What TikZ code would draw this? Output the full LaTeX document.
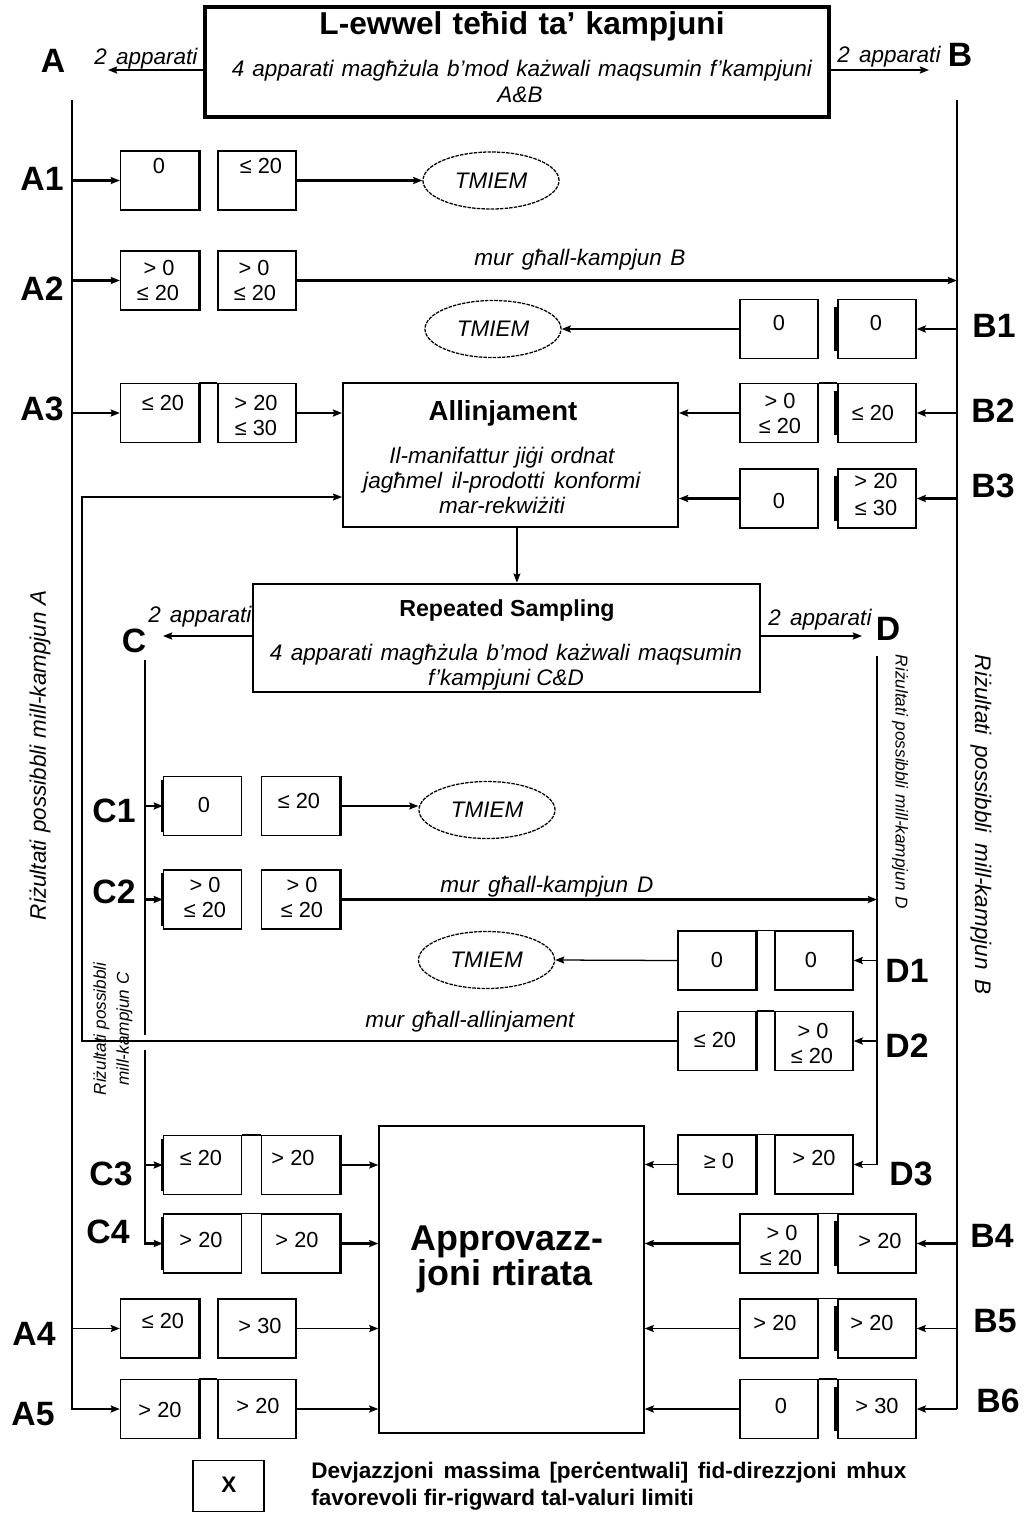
\documentclass[tikz,border=0pt]{standalone}
\usepackage{fontspec}
\setmainfont{Liberation Sans}
\usetikzlibrary{arrows.meta,shapes.geometric}
\newcommand\Fval{\fontsize{15.5}{18}\selectfont}
\newcommand\Flab{\fontsize{24}{26}\selectfont\bfseries}
\newcommand\Fital{\fontsize{16}{17.8}\selectfont\itshape}
\newcommand\Ftitle{\fontsize{22.5}{24}\selectfont\bfseries}
\newcommand\Fallin{\fontsize{19.6}{22}\selectfont\bfseries}
\newcommand\Frep{\fontsize{16.5}{18}\selectfont\bfseries}
\newcommand\Fappr{\fontsize{25.5}{26}\selectfont\bfseries}
\newcommand\Fleg{\fontsize{16}{19}\selectfont\bfseries}
\newcommand\Frot{\fontsize{16}{18}\selectfont\itshape}
\newcommand\Frotsm{\fontsize{12.2}{16.3}\selectfont\itshape}
\newcommand\Tv[4]{\node[val] (#1) at (#2,#3) {#4};}
\newcommand\Tl[4]{\node[lab] (#1) at (#2,#3) {#4};}
\begin{document}
\begin{tikzpicture}[x=0.025cm,y=-0.025cm,
 cell/.style={draw,line width=0.9pt,minimum width=1.95cm,minimum height=1.475cm,inner sep=0pt},
 val/.style={font=\Fval,anchor=base,inner sep=0pt},
 lab/.style={font=\Flab,anchor=base,inner sep=0pt},
 ital/.style={font=\Fital,anchor=base,inner sep=0pt},
 tm/.style={ellipse,draw,line width=0.9pt,dash pattern=on 2.5pt off 0.8pt,minimum width=3.4cm,minimum height=1.425cm,inner sep=0pt,font=\Fital},
 thk/.style={line width=2pt},
 cw/.style={line width=1.6pt},
 medline/.style={line width=1.2pt},
 thn/.style={line width=0.9pt},
 acc/.style={line width=2pt},
 arr/.style={-{Stealth[length=6.5pt,width=5pt,inset=1pt]}},
]
\useasboundingbox (0,0) rectangle (1024,1514);

% ---------- big boxes ----------
\node[draw,line width=2.8pt,minimum width=15.6cm,minimum height=2.75cm,inner sep=0pt] (top) at (517,62) {};
\node[font=\Ftitle,anchor=base,inner sep=0pt] (title) at (522,34) {\makebox[10.125cm][s]{L-ewwel teħid ta' kampjuni}};
\node[ital] (topl1) at (522,76) {\makebox[14.5cm][s]{4 apparati magħżula b'mod każwali maqsumin f'kampjuni}};
\node[ital] (topl2) at (520,102) {A\&B};

\node[draw,line width=1.3pt,minimum width=8.375cm,minimum height=3.6cm,inner sep=0pt] (allin) at (510.5,455) {};
\node[font=\Fallin,anchor=base,inner sep=0pt] (allint) at (503,420) {Allinjament};
\node[ital] (allin1) at (502,463) {\makebox[5.625cm][s]{Il-manifattur jiġi ordnat}};
\node[ital] (allin2) at (502,488) {\makebox[6.925cm][s]{jagħmel il-prodotti konformi}};
\node[ital] (allin3) at (502,513) {mar-rekwiżiti};

\node[draw,line width=2pt,minimum width=12.675cm,minimum height=2.7cm,inner sep=0pt] (rep) at (506.5,638) {};
\node[font=\Frep,anchor=base,inner sep=0pt] (rept) at (507,616) {Repeated Sampling};
\node[ital] (rep1) at (506,660) {\makebox[11.8cm][s]{4 apparati magħżula b'mod każwali maqsumin}};
\node[ital] (rep2) at (506,685) {f'kampjuni C\&D};

\node[draw,line width=0.9pt,minimum width=6.625cm,minimum height=7.675cm,inner sep=0pt] (appr) at (511.5,1279.5) {};
\node[font=\Fappr,anchor=base,inner sep=0pt] (appr1) at (507,1250) {Approvazz-};
\node[font=\Fappr,anchor=base,inner sep=0pt] (appr2) at (505,1285) {joni rtirata};

% ---------- ellipses ----------
\node[tm] (tm1) at (491,180.5) {TMIEM};
\node[tm] (tm2) at (493,329) {TMIEM};
\node[tm] (tm3) at (487,810) {TMIEM};
\node[tm] (tm4) at (486.5,960) {TMIEM};

% ---------- cells ----------
\foreach \i/\y in {1/180.5,2/280.5,3/413,4/1328.5,5/1409}{
  \node[cell] (aL\i) at (159.5,\y) {};
  \node[cell] (aR\i) at (257,\y) {};
  \draw[acc] (aL\i.north east) -- (aL\i.south east);
}
\foreach \i/\y in {1/329,2/413,3/498.5,4/1243.5,5/1328.5,6/1409}{
  \node[cell] (bL\i) at (779,\y) {};
  \node[cell] (bR\i) at (877,\y) {};
  \draw[acc] ([xshift=-0.05cm,yshift=-0.2cm]bR\i.north west) -- ([xshift=-0.05cm,yshift=0.2cm]bR\i.south west);
}
\foreach \i/\y in {1/806,2/899.5,3/1165,4/1243.5}{
  \node[cell] (cL\i) at (202.5,\y) {};
  \node[cell] (cR\i) at (300.5,\y) {};
  \draw[acc] ([yshift=-0.1cm]cL\i.north west) -- ([yshift=0.1cm]cL\i.south west);
  \draw[acc] (cR\i.north east) -- (cR\i.south east);
}
\foreach \i/\y in {1/960.5,2/1041,3/1164.5}{
  \node[cell] (dL\i) at (717,\y) {};
  \node[cell] (dR\i) at (814,\y) {};
  \draw[acc] (dL\i.north east) -- (dL\i.south east);
}
\foreach \l/\r in {aL3/aR3,aL5/aR5,bL2/bR2,bL4/bR4,bL5/bR5,bL6/bR6,cL3/cR3,cL4/cR4,dL1/dR1,dL2/dR2,dL3/dR3}{
  \draw[medline] (\l.north east) -- (\r.north west);
}

% ---------- values ----------
\Tv{va1l}{159}{173}{0} \Tv{va1r}{261}{173}{≤ 20}
\Tv{va2la}{159}{275}{> 0} \Tv{va2lb}{158}{300}{≤ 20}
\Tv{va2ra}{254}{275}{> 0} \Tv{va2rb}{255}{300}{≤ 20}
\Tv{va3l}{163}{410}{≤ 20} \Tv{va3ra}{256}{410}{> 20} \Tv{va3rb}{256}{435}{≤ 30}
\Tv{va4l}{163}{1328}{≤ 20} \Tv{va4r}{260}{1333}{> 30}
\Tv{va5l}{160}{1417}{> 20} \Tv{va5r}{258}{1413}{> 20}
\Tv{vb1l}{779}{330}{0} \Tv{vb1r}{876}{330}{0}
\Tv{vb2la}{780}{408}{> 0} \Tv{vb2lb}{780}{433}{≤ 20} \Tv{vb2r}{873}{420}{≤ 20}
\Tv{vb3l}{779}{508}{0} \Tv{vb3ra}{876}{488}{> 20} \Tv{vb3rb}{876}{515}{≤ 30}
\Tv{vb4la}{782}{1240}{> 0} \Tv{vb4lb}{781}{1265}{≤ 20} \Tv{vb4r}{880}{1248}{> 20}
\Tv{vb5l}{775}{1330}{> 20} \Tv{vb5r}{872}{1330}{> 20}
\Tv{vb6l}{781}{1413}{0} \Tv{vb6r}{877}{1413}{> 30}
\Tv{vc1l}{204}{812}{0} \Tv{vc1r}{299}{808}{≤ 20}
\Tv{vc2la}{205}{892}{> 0} \Tv{vc2lb}{205}{917}{≤ 20}
\Tv{vc2ra}{302}{892}{> 0} \Tv{vc2rb}{302}{917}{≤ 20}
\Tv{vc3l}{201}{1165}{≤ 20} \Tv{vc3r}{293}{1165}{> 20}
\Tv{vc4l}{201}{1247}{> 20} \Tv{vc4r}{297}{1247}{> 20}
\Tv{vd1l}{717}{967}{0} \Tv{vd1r}{811}{967}{0}
\Tv{vd2l}{715}{1047}{≤ 20} \Tv{vd2ra}{813}{1038}{> 0} \Tv{vd2rb}{812}{1063}{≤ 20}
\Tv{vd3l}{719}{1168}{≥ 0} \Tv{vd3r}{814}{1165}{> 20}

% ---------- labels ----------
\Tl{lA}{53}{72}{A} \Tl{lB}{960}{66}{B}
\Tl{lA1}{42}{190}{A1} \Tl{lA2}{42}{300}{A2} \Tl{lA3}{42}{420}{A3}
\Tl{lA4}{34}{1345}{A4} \Tl{lA5}{33}{1425}{A5}
\Tl{lB1}{994}{337}{B1} \Tl{lB2}{993}{422}{B2} \Tl{lB3}{993}{497}{B3}
\Tl{lB4}{992}{1247}{B4} \Tl{lB5}{995}{1332}{B5} \Tl{lB6}{998}{1412}{B6}
\Tl{lC}{134}{652}{C} \Tl{lD}{888}{640}{D}
\Tl{lC1}{114}{822}{C1} \Tl{lC2}{114}{903}{C2} \Tl{lC3}{111}{1185}{C3} \Tl{lC4}{108}{1243}{C4}
\Tl{lD1}{907}{982}{D1} \Tl{lD2}{907}{1057}{D2} \Tl{lD3}{911}{1185}{D3}

% ---------- rotated texts ----------
\node[font=\Frot,rotate=90,inner sep=0pt] (rotA) at (40,755) {\makebox[8.25cm][s]{Riżultati possibbli mill-kampjun A}};
\node[font=\Frot,rotate=-90,inner sep=0pt] (rotB) at (981,825) {\makebox[8.5cm][s]{Riżultati possibbli mill-kampjun B}};
\node[font=\Frotsm,rotate=-90,inner sep=0pt] (rotD) at (900,782) {\makebox[6.35cm][s]{Riżultati possibbli mill-kampjun D}};
\node[font=\Frotsm,rotate=90,inner sep=0pt,align=center] (rotC) at (113,1029) {Riżultati possibbli\\mill-kampjun C};

% ---------- connector labels ----------
\node[ital] (appA) at (146,64) {\makebox[2.575cm][s]{2 apparati}};
\node[ital] (appB) at (889,62) {\makebox[2.575cm][s]{2 apparati}};
\node[ital,anchor=base west] (appC) at (148,622) {\makebox[2.575cm][s]{2 apparati}};
\node[ital] (appD) at (820,625) {\makebox[2.575cm][s]{2 apparati}};
\node[ital] (murB) at (580,265) {\makebox[5.275cm][s]{mur għall-kampjun B}};
\node[ital] (murD) at (547,892) {\makebox[5.325cm][s]{mur għall-kampjun D}};
\node[ital] (murAl) at (470,1027) {\makebox[5.225cm][s]{mur għall-allinjament}};

% ---------- coordinates ----------
\coordinate (At) at (72,100);
\coordinate (Bt) at (957,100);
\coordinate (Ct) at (145,660);
\coordinate (Cg1) at (145,1035);
\coordinate (Cg2) at (145,1050);
\coordinate (Dt) at (877,656);
\coordinate (FB) at (82,497);
\coordinate (Aend) at (108,70);
\coordinate (Bend) at (929,70);
\coordinate (Cend) at (163,636);
\coordinate (Dend) at (862,636);

% ---------- connectors ----------
\draw[medline,arr] (top.west |- Aend) -- (Aend);
\draw[medline,arr] (top.east |- Bend) -- (Bend);
\draw[thk,arr] (rep.west |- Cend) -- (Cend);
\draw[thk,arr] (rep.east |- Dend) -- (Dend);

% trunks
\draw[thk,arr] (At) -- (At |- aL5.west) -- (aL5.west);
\draw[thn] (Bt) -- (Bt |- bR6.east);
\draw[thk,arr] (Bt |- bR6.east) -- (bR6.east);
\draw[cw] (Ct) -- (Cg1);
\draw[cw,arr] (Cg2) -- (Cg2 |- cL4.west) -- (cL4.west);
\draw[thn,arr] (Dt) -- (Dt |- dR3.east) -- (dR3.east);

% A rows
\draw[thk,arr] (At |- aL1.west) -- (aL1.west);
\draw[thk,arr] (aR1.east) -- (tm1.west);
\draw[thk,arr] (At |- aL2.west) -- (aL2.west);
\draw[thk,arr] (aR2.east) -- (Bt |- aR2.east);
\draw[thk,arr] (At |- aL3.west) -- (aL3.west);
\draw[thk,arr] (aR3.east) -- (allin.west |- aR3.east);
\draw[thn,arr] (At |- aL4.west) -- (aL4.west);
\draw[thn,arr] (aR4.east) -- (appr.west |- aR4.east);
\draw[thk,arr] (aR5.east) -- (appr.west |- aR5.east);

% B rows
\draw[thk,arr] (Bt |- bR1.east) -- (bR1.east);
\draw[thk,arr] (bL1.west) -- (tm2.east);
\draw[thk,arr] (Bt |- bR2.east) -- (bR2.east);
\draw[thk,arr] (bL2.west) -- (allin.east |- bL2.west);
\draw[thk,arr] (Bt |- bR3.east) -- (bR3.east);
\draw[thk,arr] (bL3.west) -- (allin.east |- bL3.west);
\draw[thk,arr] (Bt |- bR4.east) -- (bR4.east);
\draw[thk,arr] (bL4.west) -- (appr.east |- bL4.west);
\draw[thn,arr] (Bt |- bR5.east) -- (bR5.east);
\draw[thn,arr] (bL5.west) -- (appr.east |- bL5.west);
\draw[thk,arr] (bL6.west) -- (appr.east |- bL6.west);

% Allinjament -> Repeated
\draw[thn,arr] ([xshift=0.16cm]allin.south) -- ([xshift=0.16cm]allin.south |- rep.north);

% C rows
\draw[cw,arr] (Ct |- cL1.west) -- (cL1.west);
\draw[thn,arr] (cR1.east) -- (cR1.east -| tm3.west);
\draw[cw,arr] (Ct |- cL2.west) -- (cL2.west);
\draw[thk,arr] (cR2.east) -- (Dt |- cR2.east);
\draw[cw,arr] (Ct |- cL3.west) -- (cL3.west);
\draw[thn,arr] (cR3.east) -- (appr.west |- cR3.east);
\draw[thk,arr] (cR4.east) -- (appr.west |- cR4.east);

% D rows
\draw[medline,arr] (Dt |- dR1.east) -- (dR1.east);
\draw[thn,arr] (dL1.west) -- (tm4.east);
\draw[medline,arr] (Dt |- dR2.east) -- (dR2.east);
\draw[medline,arr] (dL3.west) -- (appr.east |- dL3.west);

% feedback to Allinjament
\draw[thn,arr] (dL2.west) -- (FB |- dL2.west) -- (FB) -- (allin.west |- FB);

% ---------- legend ----------
\node[draw,line width=1pt,minimum width=1.775cm,minimum height=1.28cm,inner sep=0pt] (legbox) at (228.5,1486) {};
\node[font=\Fleg,anchor=base,inner sep=0pt] (legx) at (229,1492) {X};
\node[font=\Fleg,anchor=base west,inner sep=0pt] (leg1) at (311,1478) {\makebox[14.875cm][s]{Devjazzjoni massima [perċentwali] fid-direzzjoni mhux}};
\node[font=\Fleg,anchor=base west,inner sep=0pt] (leg2) at (311,1505) {favorevoli fir-rigward tal-valuri limiti};
\end{tikzpicture}
\end{document}
